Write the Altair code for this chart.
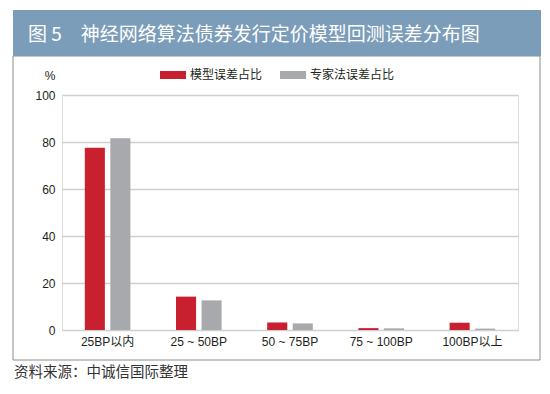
import altair as alt
import pandas as pd

categories = ["25BP以内", "25 ~ 50BP", "50 ~ 75BP", "75 ~ 100BP", "100BP以上"]
series_names = ["模型误差占比", "专家法误差占比"]
model_values = [77.6, 14.2, 3.2, 0.8, 3.1]
expert_values = [81.6, 12.6, 2.8, 0.7, 0.6]
series_colors = ["#c8202e", "#a8a9ad"]
y_ticks = [0, 20, 40, 60, 80, 100]

title_text = "图 5\u3000神经网络算法债券发行定价模型回测误差分布图"
source_text = "资料来源：中诚信国际整理"

rows = []
for c, m, e in zip(categories, model_values, expert_values):
    rows.append({"category": c, "series": series_names[0], "value": m})
    rows.append({"category": c, "series": series_names[1], "value": e})
df = pd.DataFrame(rows)

FONT = "Liberation Sans, Noto Sans CJK SC"
CJK = "Noto Sans CJK SC"

# plot area: page x 62..518, y 95..330
W, H = 456, 235

bars = alt.Chart(df).mark_bar().encode(
    x=alt.X("category:N", sort=categories, title=None,
            scale=alt.Scale(paddingInner=0.5, paddingOuter=0.25),
            axis=alt.Axis(labelAngle=0, ticks=False, domain=False, grid=False,
                          labelFontSize=12, labelFont=FONT, labelColor="#231f20",
                          labelPadding=6)),
    xOffset=alt.XOffset("series:N", sort=series_names,
                        scale=alt.Scale(paddingInner=0.214, paddingOuter=0)),
    y=alt.Y("value:Q", scale=alt.Scale(domain=[0, 100], nice=False),
            axis=alt.Axis(values=y_ticks, ticks=False, domain=False, grid=True,
                          gridColor="#cfcfcf", gridWidth=1.3,
                          labelFontSize=12, labelFont=FONT, labelColor="#231f20",
                          labelPadding=7,
                          title="%", titleAngle=0, titleX=-7, titleY=-20,
                          titleAlign="right", titleBaseline="middle",
                          titleFontSize=12, titleFontWeight="normal",
                          titleFont=FONT, titleColor="#231f20")),
    color=alt.Color("series:N", sort=series_names,
                    scale=alt.Scale(domain=series_names, range=series_colors),
                    legend=alt.Legend(orient="none", legendX=98, legendY=-33,
                                      direction="horizontal", title=None,
                                      symbolType="M-1,-0.31H1V0.31H-1Z",
                                      symbolSize=676, symbolStrokeWidth=0,
                                      symbolOpacity=1,
                                      labelFontSize=12, labelFont=CJK,
                                      labelColor="#231f20", labelOffset=4,
                                      columnPadding=17, padding=0)),
)

one = pd.DataFrame({"t": [title_text]})
src = pd.DataFrame({"t": [source_text]})

frame = alt.Chart(one).mark_rect(filled=False, stroke="#8c8c8c", strokeWidth=1).encode(
    x=alt.value(-49), x2=alt.value(478), y=alt.value(-39), y2=alt.value(265)
)
band = alt.Chart(one).mark_rect(fill="#7b9dba").encode(
    x=alt.value(-49), x2=alt.value(479), y=alt.value(-85), y2=alt.value(-39)
)
title = alt.Chart(one).mark_text(
    align="left", baseline="middle", fontSize=19, font=CJK, color="#ffffff"
).encode(x=alt.value(-34), y=alt.value(-60.5), text="t:N")
source = alt.Chart(src).mark_text(
    align="left", baseline="middle", fontSize=14.5, font=CJK, color="#333333"
).encode(x=alt.value(-48), y=alt.value(278), text="t:N")

chart = alt.layer(frame, band, title, source, bars).properties(
    width=W, height=H,
    autosize=alt.AutoSizeParams(type="none"),
    padding={"left": 54, "top": 87, "right": 24, "bottom": 56},
).configure_view(stroke=None).configure(background="#ffffff")

chart.save("out.html", embed_options={"renderer": "svg", "actions": False})
